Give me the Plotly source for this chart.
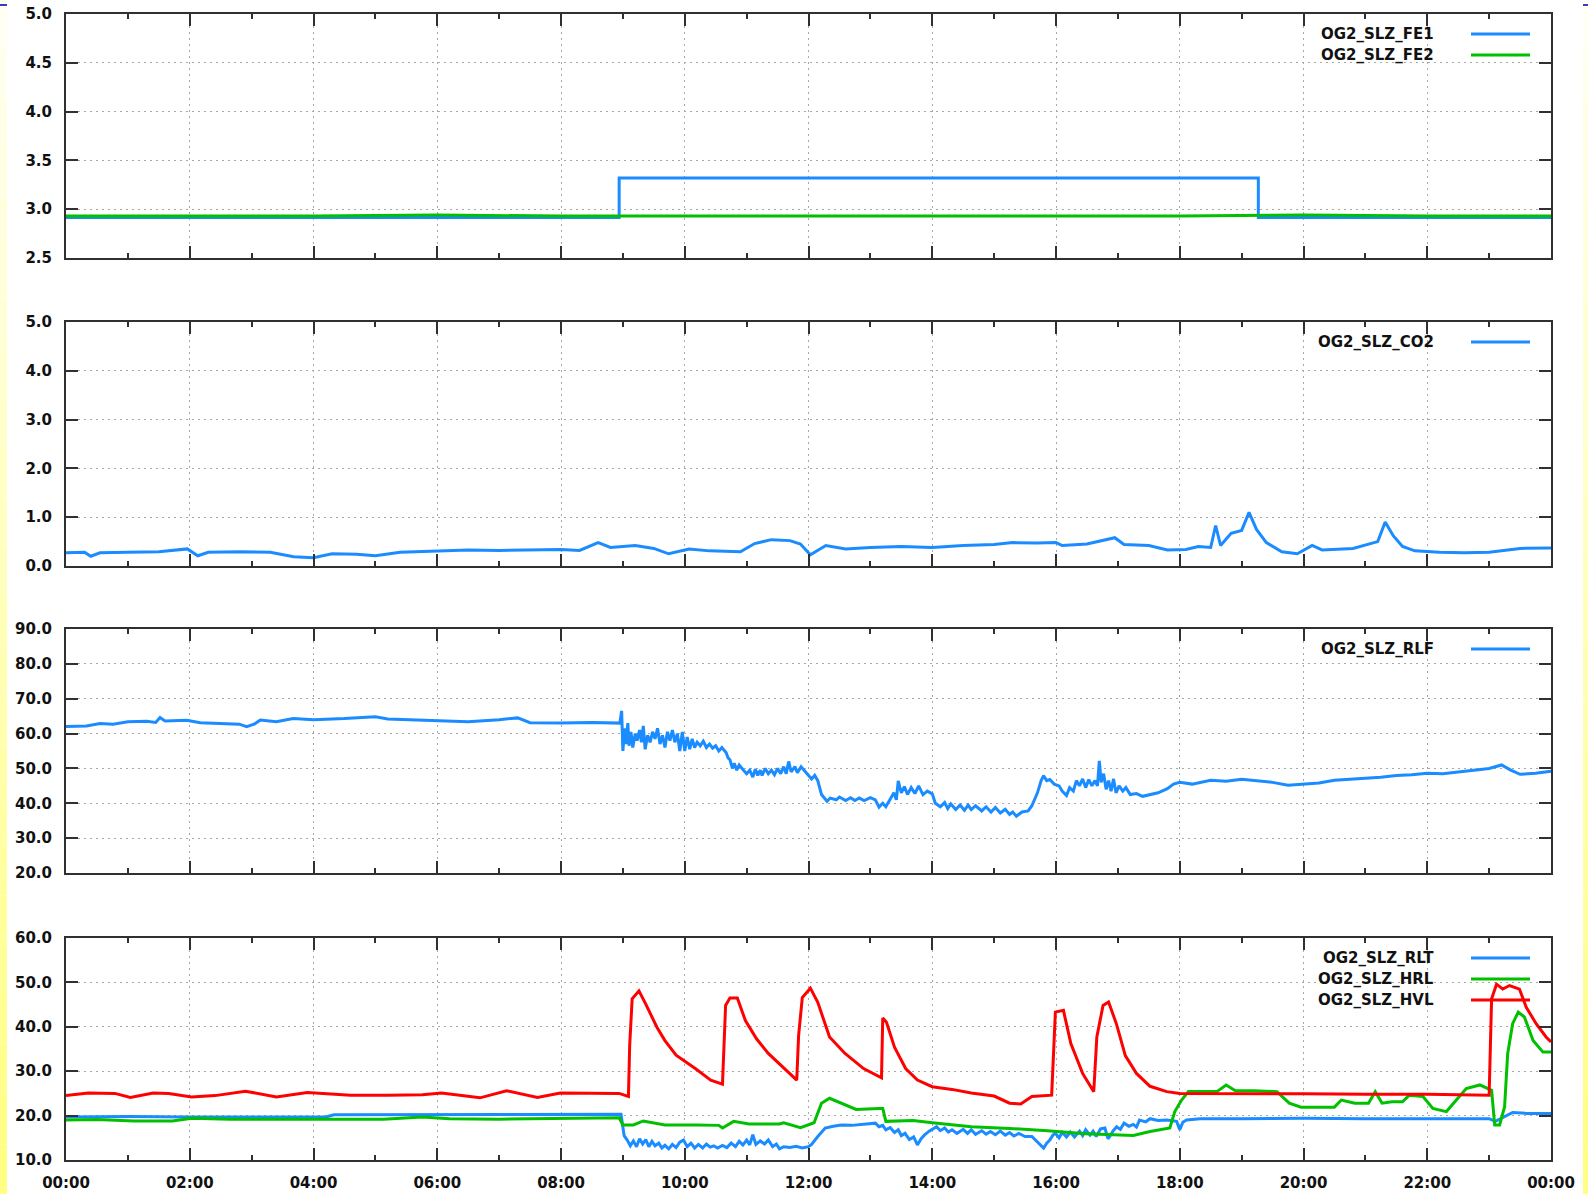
import pandas as pd
import plotly.graph_objects as go

# ---------------- data (hour of day, value) ----------------
fe1 = [(0.0, 2.915), (8.94, 3.32), (19.27, 2.915), (24.0, 2.915)]
fe2 = [(0.0, 2.93), (2.0, 2.93), (4.0, 2.93), (6.0, 2.94), (8.0, 2.93), (10.0, 2.93),
       (12.0, 2.93), (14.0, 2.93), (16.0, 2.93), (18.0, 2.93), (20.0, 2.94), (22.0, 2.93), (24.0, 2.93)]

co2 = [(0, 0.27), (0.3, 0.28), (0.4, 0.2), (0.55, 0.27), (1.0, 0.28), (1.5, 0.29), (1.96, 0.35),
       (2.13, 0.21), (2.3, 0.28), (2.8, 0.29), (3.3, 0.28), (3.68, 0.19), (4.0, 0.17), (4.3, 0.25),
       (4.7, 0.24), (5.0, 0.21), (5.4, 0.28), (6.0, 0.3), (6.5, 0.33), (7.0, 0.32), (7.5, 0.33),
       (8.0, 0.34), (8.3, 0.32), (8.6, 0.48), (8.8, 0.38), (9.2, 0.42), (9.5, 0.36), (9.74, 0.25),
       (10.07, 0.35), (10.4, 0.31), (10.9, 0.29), (11.13, 0.46), (11.4, 0.54), (11.7, 0.52),
       (11.87, 0.45), (12.03, 0.23), (12.28, 0.42), (12.6, 0.35), (13.0, 0.38), (13.5, 0.4),
       (14.0, 0.38), (14.5, 0.42), (15.0, 0.44), (15.3, 0.48), (15.7, 0.47), (16.0, 0.48),
       (16.1, 0.42), (16.5, 0.45), (16.95, 0.58), (17.1, 0.44), (17.5, 0.42), (17.8, 0.33),
       (18.1, 0.34), (18.3, 0.4), (18.5, 0.38), (18.58, 0.83), (18.66, 0.42), (18.83, 0.67),
       (19.0, 0.73), (19.12, 1.1), (19.24, 0.75), (19.4, 0.48), (19.65, 0.29), (19.9, 0.25),
       (20.14, 0.42), (20.3, 0.33), (20.8, 0.36), (21.2, 0.5), (21.32, 0.9), (21.45, 0.62),
       (21.6, 0.4), (21.8, 0.31), (22.2, 0.28), (22.6, 0.27), (23.0, 0.28), (23.5, 0.36), (24.0, 0.37)]

rlf = [(0.0, 62.0), (0.33, 62.2), (0.55, 62.9), (0.76, 62.7), (1.0, 63.4), (1.3, 63.5), (1.45, 63.2),
       (1.52, 64.6), (1.6, 63.6), (1.95, 63.8), (2.17, 63.1), (2.5, 62.9), (2.8, 62.7), (2.92, 62.0),
       (3.05, 62.8), (3.14, 63.9), (3.4, 63.4), (3.67, 64.3), (4.0, 64.0), (4.5, 64.3), (4.8, 64.5),
       (5.0, 64.8), (5.2, 64.2), (5.5, 64.0), (6.0, 63.7), (6.5, 63.4), (7.0, 64.0), (7.3, 64.5),
       (7.5, 63.1), (8.0, 63.0), (8.5, 63.2), (8.95, 63.0),
       (8.98, 66.5), (9.0, 55.0), (9.03, 61.5), (9.05, 57.0), (9.08, 63.0), (9.1, 56.5), (9.13, 60.5),
       (9.16, 56.0), (9.2, 60.0), (9.23, 58.0), (9.27, 61.0), (9.3, 57.5), (9.33, 62.2), (9.36, 55.5),
       (9.4, 59.5), (9.44, 57.5), (9.48, 60.5), (9.52, 58.5), (9.56, 61.5), (9.6, 57.0), (9.64, 59.5),
       (9.68, 56.0), (9.72, 60.5), (9.76, 58.0), (9.8, 61.0), (9.84, 57.5), (9.88, 60.0), (9.92, 55.0),
       (9.96, 60.5), (10.0, 55.0), (10.04, 59.0), (10.08, 55.5), (10.12, 58.5), (10.16, 56.0),
       (10.2, 57.5), (10.25, 56.5), (10.3, 57.8), (10.35, 56.0), (10.4, 57.0), (10.45, 55.8),
       (10.5, 56.5), (10.55, 55.0), (10.6, 56.0), (10.67, 54.5), (10.7, 53.0), (10.73, 52.5),
       (10.77, 50.0), (10.8, 51.5), (10.84, 49.5), (10.88, 51.0), (10.95, 49.5), (11.0, 48.5),
       (11.05, 49.5), (11.1, 47.5), (11.14, 49.8), (11.18, 48.0), (11.22, 49.5), (11.25, 48.0),
       (11.3, 50.0), (11.35, 48.5), (11.4, 49.5), (11.45, 48.2), (11.5, 50.0), (11.55, 48.5),
       (11.6, 50.5), (11.64, 48.5), (11.68, 52.0), (11.72, 49.0), (11.78, 50.5), (11.82, 48.8),
       (11.88, 50.5), (11.95, 49.0), (12.0, 48.0), (12.05, 47.0), (12.1, 48.0), (12.15, 46.5),
       (12.21, 42.5), (12.26, 41.5), (12.3, 40.6), (12.35, 41.5), (12.45, 41.0), (12.5, 41.8),
       (12.6, 40.8), (12.68, 41.6), (12.75, 40.8), (12.82, 41.5), (12.9, 40.8), (13.0, 41.6),
       (13.08, 41.0), (13.14, 38.9), (13.2, 40.0), (13.25, 39.0), (13.3, 40.5), (13.38, 43.0),
       (13.42, 41.0), (13.45, 46.4), (13.5, 43.0), (13.55, 44.8), (13.6, 42.5), (13.66, 44.5),
       (13.72, 42.8), (13.78, 45.0), (13.85, 42.5), (13.92, 43.5), (14.0, 42.7), (14.05, 40.0),
       (14.13, 39.0), (14.2, 40.2), (14.25, 38.5), (14.3, 39.8), (14.38, 38.2), (14.45, 39.5),
       (14.52, 38.0), (14.58, 39.5), (14.63, 38.2), (14.7, 39.3), (14.8, 37.8), (14.87, 39.0),
       (14.95, 37.5), (15.02, 38.8), (15.1, 37.2), (15.18, 38.3), (15.25, 36.8), (15.3, 37.5),
       (15.36, 36.3), (15.45, 37.5), (15.55, 37.8), (15.61, 39.3), (15.7, 43.0), (15.76, 46.5),
       (15.8, 47.9), (15.85, 46.5), (15.9, 46.8), (15.97, 45.5), (16.05, 45.0), (16.1, 43.5),
       (16.17, 42.2), (16.22, 44.5), (16.28, 43.5), (16.33, 46.5), (16.38, 45.0), (16.43, 47.0),
       (16.48, 44.5), (16.53, 46.8), (16.58, 45.0), (16.63, 46.5), (16.67, 45.0), (16.7, 52.2),
       (16.73, 46.0), (16.77, 48.5), (16.81, 44.0), (16.85, 46.5), (16.89, 43.5), (16.93, 47.0),
       (16.97, 43.0), (17.02, 45.0), (17.08, 43.5), (17.13, 44.5), (17.2, 42.5), (17.3, 42.8),
       (17.4, 42.0), (17.52, 42.4), (17.65, 43.0), (17.8, 44.2), (17.9, 45.5), (18.0, 46.0),
       (18.2, 45.5), (18.5, 46.6), (18.75, 46.3), (19.0, 46.9), (19.25, 46.4), (19.5, 46.0),
       (19.75, 45.2), (20.0, 45.5), (20.25, 45.8), (20.5, 46.6), (20.75, 46.8), (21.0, 47.2),
       (21.25, 47.5), (21.5, 48.0), (21.75, 48.2), (22.0, 48.6), (22.25, 48.5), (22.5, 49.0),
       (22.75, 49.3), (23.0, 50.0), (23.2, 51.0), (23.35, 49.5), (23.5, 48.3), (23.75, 48.6),
       (24.0, 49.2)]

rlt = [(0, 19.7), (1.0, 19.8), (2.0, 19.7), (3.0, 19.7), (4.2, 19.7), (4.33, 20.2), (5.0, 20.2),
       (6.0, 20.3), (7.0, 20.2), (8.0, 20.2), (8.97, 20.3), (9.02, 15.5), (9.07, 14.5), (9.12, 13.2),
       (9.17, 14.3), (9.22, 13.0), (9.27, 14.8), (9.32, 13.6), (9.37, 14.6), (9.42, 13.0),
       (9.47, 14.2), (9.52, 13.2), (9.58, 13.8), (9.63, 12.7), (9.68, 13.3), (9.74, 12.5),
       (9.8, 13.5), (9.86, 12.8), (9.92, 14.0), (9.98, 14.5), (10.04, 13.0), (10.1, 13.8),
       (10.16, 12.7), (10.22, 13.5), (10.29, 12.7), (10.35, 13.6), (10.41, 12.9), (10.47, 13.2),
       (10.53, 12.7), (10.61, 13.3), (10.68, 12.8), (10.75, 13.8), (10.82, 13.0), (10.88, 14.2),
       (10.94, 13.4), (11.0, 14.5), (11.05, 13.4), (11.1, 15.7), (11.15, 13.5), (11.22, 14.3),
       (11.29, 13.6), (11.35, 14.5), (11.42, 13.0), (11.48, 13.6), (11.53, 12.5), (11.6, 13.0),
       (11.7, 12.8), (11.8, 13.1), (11.9, 12.7), (12.0, 13.0), (12.05, 13.5), (12.15, 15.3),
       (12.27, 17.2), (12.4, 17.6), (12.53, 17.9), (12.7, 17.8), (12.89, 18.1), (13.08, 18.3),
       (13.14, 17.5), (13.2, 17.8), (13.25, 16.8), (13.32, 17.3), (13.39, 16.2), (13.45, 16.8),
       (13.5, 15.5), (13.56, 16.0), (13.63, 14.6), (13.7, 15.2), (13.76, 13.4), (13.82, 14.8),
       (13.88, 15.7), (13.95, 16.5), (14.07, 17.5), (14.13, 16.6), (14.2, 17.2), (14.26, 16.3),
       (14.32, 16.8), (14.4, 16.0), (14.5, 16.9), (14.57, 16.0), (14.63, 16.8), (14.7, 15.8),
       (14.8, 16.6), (14.87, 15.8), (14.94, 16.4), (15.02, 15.7), (15.1, 16.5), (15.18, 15.6),
       (15.25, 16.2), (15.32, 15.4), (15.4, 16.0), (15.5, 15.3), (15.61, 15.3), (15.7, 14.0),
       (15.76, 13.2), (15.8, 12.7), (15.85, 13.8), (15.9, 14.5), (15.95, 15.6), (15.99, 16.0),
       (16.05, 15.0), (16.1, 16.2), (16.17, 15.2), (16.23, 16.3), (16.3, 15.2), (16.38, 16.5),
       (16.43, 15.5), (16.48, 16.8), (16.55, 15.6), (16.6, 16.5), (16.65, 15.3), (16.72, 17.0),
       (16.79, 17.2), (16.84, 14.8), (16.87, 15.3), (16.92, 16.5), (16.98, 17.5), (17.04, 16.9),
       (17.1, 18.3), (17.18, 17.6), (17.25, 18.0), (17.3, 17.4), (17.35, 19.0), (17.45, 18.6),
       (17.52, 19.3), (17.65, 18.9), (17.79, 19.0), (17.95, 18.7), (18.0, 16.8), (18.05, 18.5),
       (18.11, 19.0), (18.33, 19.3), (19.0, 19.3), (20.0, 19.4), (21.0, 19.3), (22.0, 19.3),
       (23.0, 19.3), (23.1, 18.7), (23.38, 20.7), (23.6, 20.5), (24.0, 20.5)]

hrl = [(0, 19.0), (0.5, 19.1), (1.1, 18.8), (1.72, 18.8), (2.03, 19.4), (2.65, 19.2), (3.5, 19.2),
       (4.5, 19.2), (5.13, 19.2), (5.76, 19.7), (6.2, 19.3), (7.0, 19.2), (8.0, 19.3), (8.94, 19.5),
       (9.0, 17.9), (9.17, 17.9), (9.33, 18.8), (9.68, 17.9), (10.2, 17.9), (10.55, 17.8), (10.61, 17.2),
       (10.79, 18.7), (11.04, 18.1), (11.53, 18.1), (11.6, 18.4), (11.87, 17.3), (12.09, 18.4),
       (12.21, 22.8), (12.34, 23.9), (12.53, 22.8), (12.77, 21.4), (13.14, 21.6), (13.2, 21.6),
       (13.25, 18.7), (13.69, 18.9), (14.0, 18.4), (14.63, 17.5), (15.25, 17.1), (15.86, 16.6),
       (16.48, 15.9), (17.1, 15.6), (17.25, 15.5), (17.52, 16.4), (17.84, 17.2), (17.92, 20.9),
       (18.03, 23.5), (18.14, 25.4), (18.6, 25.4), (18.75, 26.9), (18.9, 25.6), (19.2, 25.6),
       (19.57, 25.4), (19.77, 22.8), (19.96, 21.9), (20.5, 21.9), (20.61, 23.5), (20.83, 22.8),
       (21.05, 22.8), (21.16, 25.4), (21.27, 22.8), (21.43, 23.1), (21.6, 23.1), (21.71, 24.6),
       (21.93, 24.3), (22.09, 21.6), (22.31, 20.9), (22.47, 23.5), (22.63, 26.1), (22.85, 26.9),
       (23.04, 25.7), (23.09, 17.9), (23.17, 17.9), (23.25, 22.0), (23.3, 34.0), (23.38, 40.7),
       (23.47, 43.3), (23.57, 42.2), (23.71, 36.9), (23.87, 34.3), (24.0, 34.3)]

hvl = [(0.0, 24.5), (0.36, 25.1), (0.79, 25.0), (1.04, 24.1), (1.41, 25.1), (1.66, 25.0), (2.03, 24.2),
       (2.41, 24.5), (2.9, 25.5), (3.4, 24.2), (3.9, 25.2), (4.27, 24.8), (4.6, 24.6), (5.2, 24.6),
       (5.76, 24.7), (6.07, 25.1), (6.69, 24.0), (7.12, 25.6), (7.62, 24.1), (7.99, 25.1), (8.66, 25.0),
       (8.94, 25.0), (9.09, 24.3), (9.11, 35.8), (9.15, 46.3), (9.26, 48.1), (9.37, 45.1), (9.55, 39.9),
       (9.68, 36.9), (9.86, 33.6), (10.17, 30.6), (10.42, 28.0), (10.61, 27.1), (10.66, 44.8),
       (10.73, 46.5), (10.85, 46.5), (10.98, 41.4), (11.16, 37.3), (11.35, 34.0), (11.66, 29.9),
       (11.81, 28.0), (11.84, 38.0), (11.9, 46.6), (12.03, 48.7), (12.15, 45.5), (12.34, 37.7),
       (12.59, 34.0), (12.89, 30.6), (13.14, 28.7), (13.18, 28.5), (13.2, 42.0), (13.26, 41.0),
       (13.39, 35.4), (13.57, 30.6), (13.76, 28.0), (14.0, 26.5), (14.32, 25.9), (14.63, 25.1),
       (15.0, 24.4), (15.25, 22.8), (15.43, 22.6), (15.61, 24.3), (15.93, 24.6), (15.99, 43.3),
       (16.12, 43.7), (16.24, 36.2), (16.43, 29.5), (16.61, 25.4), (16.66, 37.7), (16.76, 44.8),
       (16.85, 45.6), (16.98, 40.5), (17.12, 33.5), (17.3, 29.5), (17.52, 26.6), (17.79, 25.4),
       (18.0, 25.0), (19.0, 25.0), (20.0, 24.9), (21.0, 24.8), (22.0, 24.8), (23.0, 24.6),
       (23.04, 46.3), (23.12, 49.6), (23.22, 48.5), (23.33, 49.3), (23.49, 48.5), (23.6, 44.4),
       (23.76, 40.7), (23.92, 37.7), (24.0, 36.6)]

# panel definitions: (series list, y range, y dtick)
panels = [
    ([("OG2_SLZ_FE1", fe1, "blue"), ("OG2_SLZ_FE2", fe2, "green")], [2.5, 5.0], 0.5),
    ([("OG2_SLZ_CO2", co2, "blue")], [0.0, 5.0], 1.0),
    ([("OG2_SLZ_RLF", rlf, "blue")], [20.0, 90.0], 10.0),
    ([("OG2_SLZ_RLT", rlt, "blue"), ("OG2_SLZ_HRL", hrl, "green"), ("OG2_SLZ_HVL", hvl, "red")], [10.0, 60.0], 10.0),
]

# ---------------- styling ----------------
W, H = 1588, 1194
PL, PR, PT, PB = 66, 1551, 14, 1160          # plot area in pixels
panel_px = [(14, 258), (322, 566), (629, 873), (938, 1160)]
COLORS = {"blue": "#1a8cff", "green": "#00c000", "red": "#ff0000"}
FRAME = "#303030"
GRID = "#a8a8a8"
FONT = dict(family="DejaVu Sans", size=15, color="#111111", weight=700)
LW = 3

base = pd.Timestamp("2024-01-01 00:00:00")
end = base + pd.Timedelta(hours=24)


def to_time(hours):
    return [base + pd.Timedelta(hours=h) for h in hours]


def py(y):
    return (PB - y) / (PB - PT)


def px(x):
    return (x - PL) / (PR - PL)


fig = go.Figure()
annotations = []
shapes = []

for i, (series, yr, dt) in enumerate(panels, start=1):
    xa = "x" if i == 1 else f"x{i}"
    ya = "y" if i == 1 else f"y{i}"
    for name, pairs, col in series:
        hs = [p[0] for p in pairs]
        vs = [p[1] for p in pairs]
        fig.add_trace(go.Scatter(
            x=to_time(hs), y=vs, name=name, mode="lines",
            line=dict(color=COLORS[col], width=LW,
                      shape="hv" if name == "OG2_SLZ_FE1" else "linear"),
            xaxis=xa, yaxis=ya, showlegend=False, cliponaxis=False))

    top, bot = panel_px[i - 1]
    xkey = "xaxis" if i == 1 else f"xaxis{i}"
    ykey = "yaxis" if i == 1 else f"yaxis{i}"
    fig.layout[xkey] = dict(
        domain=[0, 1], anchor=ya, type="date", automargin=False,
        range=[base, end], dtick=7200000, tick0=base, tickformat="%H:%M",
        ticks="inside", ticklen=12, tickwidth=2, tickcolor=FRAME,
        showline=True, linewidth=2, linecolor=FRAME, mirror="ticks",
        showgrid=True, gridcolor=GRID, gridwidth=1, griddash="2px,4px",
        minor=dict(dtick=3600000, tick0=base, ticks="inside", ticklen=5, tickwidth=1.5,
                   tickcolor=FRAME, showgrid=False),
        zeroline=False, tickfont=FONT, showticklabels=(i == 4),
        ticklabelstandoff=8,
        **({} if i == 1 else {"matches": "x"}))
    fig.layout[ykey] = dict(
        domain=[py(bot), py(top)], anchor=xa, range=yr, dtick=dt, tick0=yr[0],
        automargin=False,
        tickformat=".1f", ticks="inside", ticklen=12, tickwidth=2, tickcolor=FRAME,
        showline=True, linewidth=2, linecolor=FRAME, mirror="ticks",
        showgrid=True, gridcolor=GRID, gridwidth=1, griddash="2px,4px",
        zeroline=False, tickfont=FONT, ticklabelstandoff=9)

    # gnuplot-style key (text right-justified, sample line to the right)
    for k, (name, pairs, col) in enumerate(series):
        yy = top + 20 + 21 * k
        annotations.append(dict(
            x=px(1436), y=py(yy), xref="paper", yref="paper", text=name,
            showarrow=False, xanchor="right", yanchor="middle", font=FONT))
        shapes.append(dict(type="line", xref="paper", yref="paper",
                           x0=px(1471), x1=px(1530), y0=py(yy), y1=py(yy),
                           line=dict(color=COLORS[col], width=LW)))

# page decoration: pale yellow gradient strips at the page edges
NSEG = 24
for s in range(NSEG):
    f = s / (NSEG - 1)
    b = int(242 - 110 * f)
    col = f"rgb(255,255,{b})"
    y0 = s * H / NSEG
    y1 = (s + 1) * H / NSEG
    for xa0, xa1 in ((0, 7), (1583, 1588)):
        shapes.append(dict(type="rect", xref="paper", yref="paper",
                           x0=px(xa0), x1=px(xa1), y0=py(y1), y1=py(y0),
                           line=dict(width=0), fillcolor=col, layer="below"))
for xa0, xa1 in ((0, 7), (1583, 1588)):
    shapes.append(dict(type="line", xref="paper", yref="paper",
                       x0=px(xa0), x1=px(xa1), y0=py(5), y1=py(5),
                       line=dict(color="#3a3ac8", width=2)))

fig.update_layout(
    width=W, height=H,
    margin=dict(l=PL, r=W - PR, t=PT, b=H - PB, pad=0, autoexpand=False),
    paper_bgcolor="white", plot_bgcolor="white",
    showlegend=False, annotations=annotations, shapes=shapes,
    font=FONT)

fig.write_html("out.html",
               config={"displayModeBar": False},
               post_script="document.body.style.margin='0';document.body.style.padding='0';")
